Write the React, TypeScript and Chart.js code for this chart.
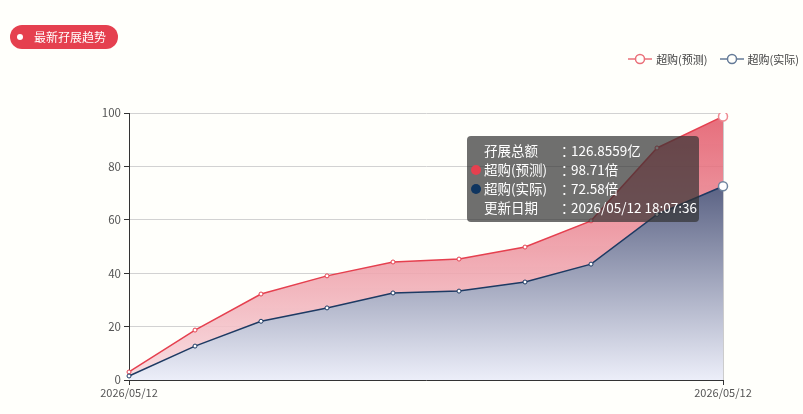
import React, { useEffect, useRef } from "react";
import { Chart, registerables } from "chart.js";

Chart.register(...registerables);

const categories = [
  "2026/05/12", "2026/05/12", "2026/05/12", "2026/05/12", "2026/05/12",
  "2026/05/12", "2026/05/12", "2026/05/12", "2026/05/12", "2026/05/12",
];
const predicted = [3.0, 18.7, 32.2, 39.0, 44.2, 45.3, 49.8, 59.6, 86.9, 98.71];
const actual = [1.5, 12.7, 22.0, 27.0, 32.6, 33.3, 36.7, 43.4, 62.0, 72.58];
const yTicks = [0, 20, 40, 60, 80, 100];
const seriesNames = ["超购(预测)", "超购(实际)"];
const tooltipRows = [
  { label: "孖展总额", value: "126.8559亿", dot: "" },
  { label: "超购(预测)", value: "98.71倍", dot: "#e5404f" },
  { label: "超购(实际)", value: "72.58倍", dot: "#0f3560" },
  { label: "更新日期", value: "2026/05/12 18:07:36", dot: "" },
];

const FONT = "'Noto Sans CJK SC', 'Noto Sans', sans-serif";
const RED = "#e5404f";
const NAVY = "#1d3a63";

function LegendIcon({ color }: { color: string }) {
  return (
    <svg width="24" height="12" style={{ display: "block" }}>
      <line x1="0" y1="6" x2="24" y2="6" stroke={color} strokeWidth="1.5" />
      <circle cx="12" cy="6" r="4.5" fill="#fffffb" stroke={color} strokeWidth="1.5" />
    </svg>
  );
}

export default function App() {
  const ref = useRef<HTMLCanvasElement | null>(null);

  useEffect(() => {
    document.body.style.margin = "0";
    const ctx = ref.current!.getContext("2d")!;
    const last = predicted.length - 1;
    const chart = new Chart(ctx, {
      type: "line",
      data: {
        labels: categories,
        datasets: [
          {
            label: seriesNames[0],
            data: predicted,
            borderColor: RED,
            borderWidth: 1.5,
            tension: 0,
            fill: "origin",
            backgroundColor: (c: any) => {
              const a = c.chart.chartArea;
              if (!a) return "rgba(229,64,79,0.4)";
              const g = c.chart.ctx.createLinearGradient(0, a.top, 0, a.bottom);
              g.addColorStop(0, "rgba(226,84,100,0.85)");
              g.addColorStop(1, "rgba(248,220,224,0.9)");
              return g;
            },
            pointRadius: predicted.map((_, i) => (i === last ? 4.5 : 2)),
            pointBackgroundColor: "#ffffff",
            pointBorderColor: predicted.map((_, i) => (i === last ? "#ee8a92" : RED)),
            pointBorderWidth: predicted.map((_, i) => (i === last ? 1.5 : 1)),
            order: 2,
          },
          {
            label: seriesNames[1],
            data: actual,
            borderColor: NAVY,
            borderWidth: 1.5,
            tension: 0,
            fill: "origin",
            backgroundColor: (c: any) => {
              const a = c.chart.chartArea;
              if (!a) return "rgba(40,50,90,0.4)";
              const g = c.chart.ctx.createLinearGradient(0, a.top, 0, a.bottom);
              g.addColorStop(0, "rgba(36,46,88,1)");
              g.addColorStop(1, "rgba(236,238,249,1)");
              return g;
            },
            pointRadius: actual.map((_, i) => (i === last ? 4.5 : 2)),
            pointBackgroundColor: "#ffffff",
            pointBorderColor: actual.map((_, i) => (i === last ? "#6f849e" : NAVY)),
            pointBorderWidth: actual.map((_, i) => (i === last ? 1.5 : 1)),
            order: 1,
          },
        ],
      },
      options: {
        animation: false,
        responsive: false,
        events: [],
        layout: { padding: { left: 100, right: 80, top: 113, bottom: 12 } },
        plugins: { legend: { display: false }, tooltip: { enabled: false } },
        scales: {
          x: {
            offset: false,
            border: { display: true, color: "#333", width: 1 },
            grid: {
              display: true,
              drawOnChartArea: true,
              color: (c: any) => (c.index === last ? "#cccccc" : "rgba(0,0,0,0)"),
              tickColor: (c: any) => (c.index === 0 || c.index === last ? "#333" : "rgba(0,0,0,0)"),
              tickLength: 5,
            },
            ticks: {
              autoSkip: false,
              maxRotation: 0,
              padding: 1,
              color: "#555",
              font: { size: 11, family: FONT },
              callback: (_v: any, i: number) => (i === 0 || i === last ? categories[i] : ""),
            },
            afterFit: (s: any) => { s.height = 22; },
          },
          y: {
            min: 0,
            max: 100,
            afterBuildTicks: (s: any) => { s.ticks = yTicks.map((v) => ({ value: v })); },
            border: { display: true, color: "#333", width: 1 },
            grid: { color: "#d2d2d2", tickColor: "#333", tickLength: 5 },
            ticks: { color: "#555", padding: 3, font: { size: 11.5, family: FONT } },
            afterFit: (s: any) => { s.width = 29; },
          },
        },
      },
    } as any);
    return () => chart.destroy();
  }, []);

  return (
    <div style={{ position: "absolute", left: 0, top: 0, width: 803, height: 414, background: "#fffffb", fontFamily: FONT, overflow: "hidden" }}>
      <canvas ref={ref} width={803} height={414} style={{ position: "absolute", left: 0, top: 0 }} />
      <div style={{ position: "absolute", left: 10, top: 25, width: 108, height: 24, borderRadius: 12, background: RED, color: "#fff", fontSize: 12, lineHeight: "24px", boxSizing: "border-box", paddingLeft: 24 }}>
        <span style={{ position: "absolute", left: 7, top: 9, width: 6, height: 6, borderRadius: 3, background: "#fff" }} />
        最新孖展趋势
      </div>
      <div style={{ position: "absolute", right: 4, top: 51, display: "flex", alignItems: "center", fontSize: 11, color: "#444" }}>
        <LegendIcon color="#ea6f79" />
        <span style={{ marginLeft: 4, marginRight: 12 }}>{seriesNames[0]}</span>
        <LegendIcon color="#647a97" />
        <span style={{ marginLeft: 4 }}>{seriesNames[1]}</span>
      </div>
      <div style={{ position: "absolute", left: 467, top: 136, width: 232, height: 86, boxSizing: "border-box", padding: "5px 0 0 0", borderRadius: 4, background: "rgba(50,50,50,0.7)", color: "#fff", fontSize: 13.5 }}>
        {tooltipRows.map((r, i) => (
          <div key={i} style={{ position: "relative", height: 19, lineHeight: "19px" }}>
            {r.dot && <span style={{ position: "absolute", left: 4, top: 5, width: 10, height: 10, borderRadius: 5, background: r.dot }} />}
            <span style={{ position: "absolute", left: 17 }}>{r.label}</span>
            <span style={{ position: "absolute", left: 94 }}>：</span>
            <span style={{ position: "absolute", left: 104 }}>{r.value}</span>
          </div>
        ))}
      </div>
    </div>
  );
}
